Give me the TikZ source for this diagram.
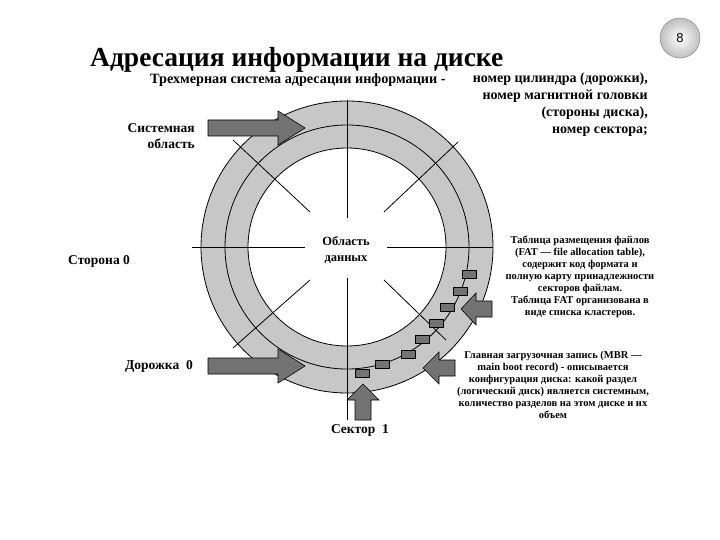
\documentclass[tikz,border=0pt]{standalone}
\usepackage{fontspec}
\setmainfont{Liberation Serif}
\newfontfamily\sansf{Liberation Sans}
\begin{document}
\begin{tikzpicture}[x=1pt,y=-1pt,
  lbl/.style={font=\bfseries\fontsize{13.5}{16.5}\selectfont,inner sep=0pt},
  small/.style={font=\bfseries\fontsize{10.5}{12}\selectfont,inner sep=0pt,align=center},
  blk/.style={fill=black!55,draw=black,line width=0.6pt},
  sec/.style={fill=black!55,draw=black,line width=0.5pt},
  ln/.style={line width=0.8pt}]
\useasboundingbox (0,0) rectangle (720,540);
% page number
\node[circle,draw=black!50,shading=radial,inner color=white,outer color=black!25,minimum size=40pt,font=\sansf\fontsize{13}{15}\selectfont] (pg) at (680,38) {8};
% title
\node[anchor=west,font=\bfseries\fontsize{27.5}{30}\selectfont,inner sep=0pt] (title) at (90,60) {Адресация информации на диске};
\node[anchor=west,lbl,font=\bfseries\fontsize{14.2}{16}\selectfont] (sub) at (150,80) {Трехмерная система адресации информации -};
\node[anchor=north east,lbl,align=right,font=\bfseries\fontsize{14}{17}\selectfont] (addr) at (648,73) {номер цилиндра (дорожки),\\номер магнитной головки\\(стороны диска),\\номер сектора;};
% disk
\coordinate (c) at (347,247);
\fill[black!22,draw=black,ln] (c) circle (146);
\draw[ln] (c) circle (122);
\fill[white,draw=black,ln] (c) circle (99);
% lines
\draw[ln] (192,247) -- (305,247);
\draw[ln] (387,247) -- (493,247);
\draw[ln] (347,100) -- (347,218);
\draw[ln] (347,278) -- (347,420);
\draw[ln] (233,140) -- (310,212);
\draw[ln] (458,142) -- (384,212);
\draw[ln] (233,348) -- (310,280);
\draw[ln] (446,340) -- (384,280);
% sector boxes
\foreach \x/\y in {469/274,460/291,447/307,436/323,422/339,408/354,382/364,362/373}
  \draw[sec] (\x-7,\y-4) rectangle (\x+7,\y+4);
% arrows
\draw[blk] (208,120) -- (278,120) -- (278,111) -- (305,128) -- (278,145) -- (278,136) -- (208,136) -- cycle;
\draw[blk] (208,358) -- (278,358) -- (278,349) -- (305,366) -- (278,383) -- (278,374) -- (208,374) -- cycle;
\draw[blk] (355,420) -- (355,400) -- (347,400) -- (363,384) -- (379,400) -- (371,400) -- (371,420) -- cycle;
\draw[blk] (492,301) -- (476,301) -- (476,293) -- (461,309) -- (476,325) -- (476,317) -- (492,317) -- cycle;
\draw[blk] (455,360) -- (439,360) -- (439,352) -- (423,368) -- (439,384) -- (439,376) -- (455,376) -- cycle;
% labels
\node[lbl,align=right,anchor=east] (sys) at (195,136) {Системная\\область};
\node[lbl,anchor=west] (side) at (68,261) {Сторона 0};
\node[lbl,anchor=west] (trk) at (125,366) {Дорожка\ \ 0};
\node[lbl] (sct) at (360,430) {Сектор\ \ 1};
\node[lbl,align=center,font=\bfseries\fontsize{12.5}{16}\selectfont] (data) at (346,250) {Область\\данных};
\node[small] (fat) at (580,277) {Таблица размещения файлов\\(FAT — file allocation table),\\содержит код формата и\\полную карту принадлежности\\секторов файлам.\\Таблица FAT организована в\\виде списка кластеров.};
\node[small] (mbr) at (553,385) {Главная загрузочная запись (MBR —\\main boot record) - описывается\\конфигурация диска: какой раздел\\(логический диск) является системным,\\количество разделов на этом диске и их\\объем};
\end{tikzpicture}
\end{document}
